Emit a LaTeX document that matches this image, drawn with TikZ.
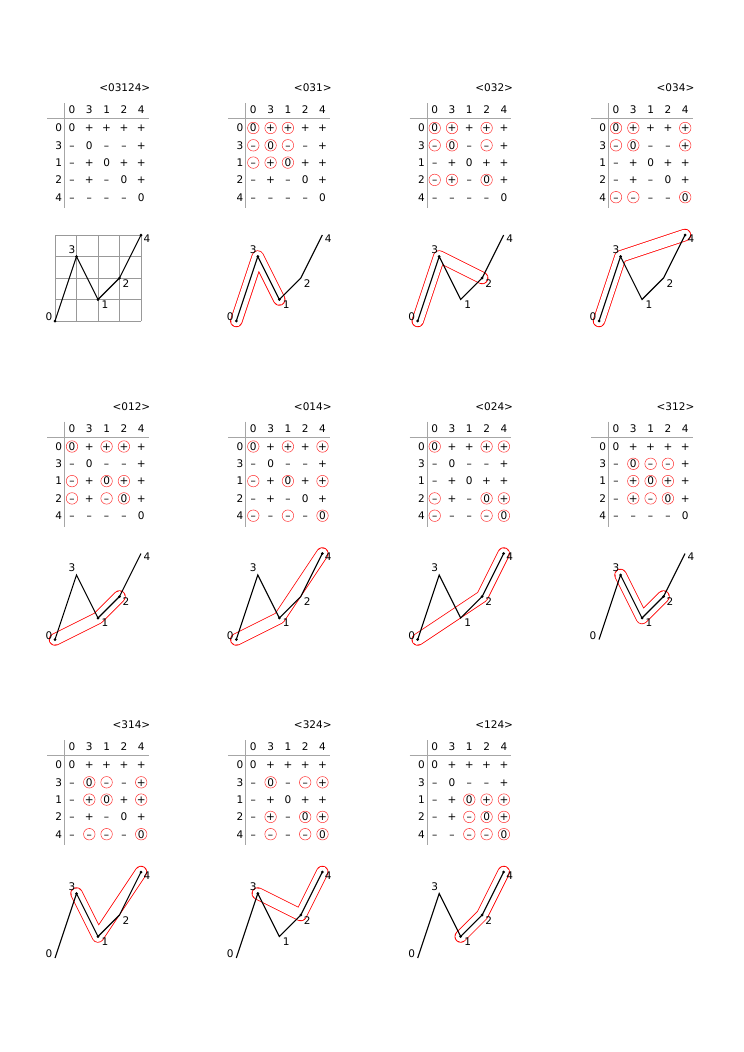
\documentclass[tikz,border=0pt]{standalone}
\usepackage{fontspec}
\setmainfont{DejaVu Sans}
\tikzset{
  tbl/.style={font=\fontsize{10.5}{12}\selectfont, inner sep=0pt, text height=7.65pt, text depth=0pt, anchor=center},
  rulel/.style={draw=black!35, line width=0.8pt},
  ring/.style={draw=red!80, line width=0.5pt, circle, minimum size=11.5pt, inner sep=0pt},
  polyline/.style={line width=1.1pt, line join=miter},
  env/.style={line width=12.4pt, red, line cap=round, line join=round},
  envin/.style={line width=10.8pt, white, line cap=round, line join=round},
  ptdot/.style={circle, fill=black, inner sep=0pt, minimum size=3pt},
  gridl/.style={draw=black!40, line width=0.6pt},
}
\newcommand\tblrow[8]{%
  \node[tbl] (#1-r#2) at (58.7,{128+17.3*#2}) {#3};
  \node[tbl] (#1-v#2-0) at (72,{128+17.3*#2}) {#4};
  \node[tbl] (#1-v#2-1) at (89.3,{128+17.3*#2}) {#5};
  \node[tbl] (#1-v#2-2) at (106.6,{128+17.3*#2}) {#6};
  \node[tbl] (#1-v#2-3) at (123.9,{128+17.3*#2}) {#7};
  \node[tbl] (#1-v#2-4) at (141.2,{128+17.3*#2}) {#8};
}
\newcommand\mktable[2]{% id, title
  \node[tbl, anchor=east] (#1-title) at (150.5,88) {#2};
  \foreach \l [count=\k from 0] in {0,3,1,2,4}
    \node[tbl] (#1-h\k) at ({72+17.3*\k},110) {\l};
  \coordinate (#1-hl) at (47,118.5);
  \coordinate (#1-hr) at (148.5,118.5);
  \coordinate (#1-vt) at (64.5,103);
  \coordinate (#1-vb) at (64.5,208);
  \draw[rulel] (#1-hl) -- (#1-hr);
  \draw[rulel] (#1-vt) -- (#1-vb);
  \tblrow{#1}{0}{0}{0}{+}{+}{+}{+}
  \tblrow{#1}{1}{3}{–}{0}{–}{–}{+}
  \tblrow{#1}{2}{1}{–}{+}{0}{+}{+}
  \tblrow{#1}{3}{2}{–}{+}{–}{0}{+}
  \tblrow{#1}{4}{4}{–}{–}{–}{–}{0}
}
\newcommand\mkpoints[1]{%
  \coordinate (#1-0) at (55,321);
  \coordinate (#1-3) at (76.5,256.5);
  \coordinate (#1-1) at (98,299.5);
  \coordinate (#1-2) at (119.5,278);
  \coordinate (#1-4) at (141,235);
}
\newcommand\mklabels[1]{%
  \node[tbl] (#1-l0) at (49,317) {0};
  \node[tbl] (#1-l3) at (72,249.5) {3};
  \node[tbl] (#1-l1) at (105,304.5) {1};
  \node[tbl] (#1-l2) at (126,283.5) {2};
  \node[tbl] (#1-l4) at (147,238.5) {4};
}
\newcommand\panel[7]{% dx, dy, id, title, a, b, c
\begin{scope}[shift={(#1,#2)}]
  \mktable{#3}{#4}
  \foreach \a in {#5,#6,#7}{
    \foreach \b in {#5,#6,#7}{
      \pgfmathtruncatemacro\ri{{0,2,3,1,4}[\a]}
      \pgfmathtruncatemacro\ci{{0,2,3,1,4}[\b]}
      \node[ring] (#3-o\a\b) at ({72+17.3*\ci},{128+17.3*\ri}) {};
    }
  }
  \mkpoints{#3}
  \draw[env] (#3-#5) -- (#3-#6) -- (#3-#7);
  \draw[envin] (#3-#5) -- (#3-#6) -- (#3-#7);
  \draw[polyline] (#3-0) -- (#3-3) -- (#3-1) -- (#3-2) -- (#3-4);
  \node[ptdot] (#3-d#5) at (#3-#5) {};
  \node[ptdot] (#3-d#6) at (#3-#6) {};
  \node[ptdot] (#3-d#7) at (#3-#7) {};
  \mklabels{#3}
\end{scope}}
\begin{document}
\begin{tikzpicture}[x=1pt,y=-1pt]
\fill[white] (0,0) rectangle (744,1052);
\useasboundingbox (0,0) rectangle (744,1052);
% panel a with grid
\begin{scope}
  \mktable{a}{<03124>}
  \mkpoints{a}
  \foreach \i in {0,...,4}{
    \draw[gridl] ({55+21.5*\i},235) -- ({55+21.5*\i},321);
    \draw[gridl] (55,{235+21.5*\i}) -- (141,{235+21.5*\i});
  }
  \draw[polyline] (a-0) -- (a-3) -- (a-1) -- (a-2) -- (a-4);
  \foreach \p in {0,1,2,3,4} \node[ptdot] (a-d\p) at (a-\p) {};
  \mklabels{a}
\end{scope}
\panel{181.3}{0}{b}{<031>}{0}{3}{1}
\panel{362.7}{0}{c}{<032>}{0}{3}{2}
\panel{544}{0}{d}{<034>}{0}{3}{4}
\panel{0}{318.5}{e}{<012>}{0}{1}{2}
\panel{181.3}{318.5}{f}{<014>}{0}{1}{4}
\panel{362.7}{318.5}{g}{<024>}{0}{2}{4}
\panel{544}{318.5}{h}{<312>}{3}{1}{2}
\panel{0}{637}{i}{<314>}{3}{1}{4}
\panel{181.3}{637}{j}{<324>}{3}{2}{4}
\panel{362.7}{637}{k}{<124>}{1}{2}{4}
\end{tikzpicture}
\end{document}
